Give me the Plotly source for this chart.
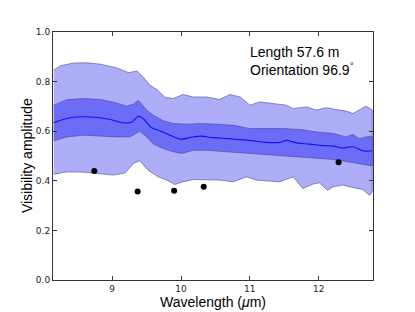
import plotly.graph_objects as go

# ---- data ----
med_x = [8.15, 8.34, 8.54, 8.78, 8.97, 9.16, 9.28, 9.38, 9.45, 9.57, 9.70, 9.84, 9.99, 10.13, 10.28,
         10.47, 10.67, 10.86, 11.05, 11.24, 11.44, 11.53, 11.68, 11.87, 12.06, 12.21, 12.35, 12.50, 12.64, 12.78]
med_y = [0.634, 0.651, 0.658, 0.655, 0.647, 0.634, 0.636, 0.660, 0.651, 0.615, 0.601, 0.584, 0.568, 0.574, 0.580,
         0.574, 0.570, 0.566, 0.561, 0.555, 0.555, 0.563, 0.553, 0.548, 0.542, 0.540, 0.532, 0.537, 0.521, 0.521]

in_up_x = [8.15, 8.34, 8.58, 8.83, 9.02, 9.21, 9.31, 9.38, 9.50, 9.60, 9.74, 9.89, 10.08, 10.28, 10.52,
           10.76, 11.00, 11.24, 11.48, 11.73, 11.97, 12.21, 12.40, 12.50, 12.59, 12.69, 12.78]
in_up_y = [0.705, 0.727, 0.732, 0.728, 0.717, 0.701, 0.709, 0.725, 0.685, 0.664, 0.642, 0.631, 0.628, 0.631, 0.628,
           0.624, 0.611, 0.611, 0.611, 0.607, 0.597, 0.591, 0.577, 0.587, 0.570, 0.577, 0.580]

in_lo_x = [8.15, 8.34, 8.58, 8.83, 9.07, 9.26, 9.40, 9.50, 9.60, 9.74, 9.89, 10.01, 10.18, 10.37, 10.66,
           10.95, 11.24, 11.48, 11.63, 11.82, 12.01, 12.21, 12.40, 12.59, 12.78]
in_lo_y = [0.561, 0.577, 0.584, 0.580, 0.577, 0.577, 0.600, 0.577, 0.548, 0.530, 0.517, 0.510, 0.523, 0.523, 0.519,
           0.513, 0.507, 0.503, 0.497, 0.494, 0.490, 0.486, 0.478, 0.470, 0.460]

out_up_x = [8.15, 8.25, 8.44, 8.63, 8.83, 9.07, 9.24, 9.36, 9.45, 9.55, 9.65, 9.77, 9.89, 10.03, 10.18, 10.37,
            10.56, 10.71, 10.86, 11.00, 11.145, 11.34, 11.53, 11.63, 11.82, 11.97, 12.11, 12.26, 12.40, 12.50,
            12.59, 12.69, 12.78]
out_up_y = [0.846, 0.864, 0.875, 0.876, 0.870, 0.855, 0.836, 0.843, 0.819, 0.785, 0.768, 0.736, 0.732, 0.748,
            0.738, 0.738, 0.728, 0.748, 0.738, 0.705, 0.718, 0.711, 0.705, 0.691, 0.698, 0.685, 0.695, 0.687,
            0.681, 0.671, 0.685, 0.701, 0.685]

out_lo_x = [8.15, 8.34, 8.58, 8.83, 9.02, 9.19, 9.31, 9.40, 9.52, 9.67, 9.79, 9.91, 10.03, 10.18, 10.37, 10.56,
            10.76, 10.95, 11.09, 11.29, 11.43, 11.63, 11.77, 11.92, 12.01, 12.13, 12.21, 12.35, 12.50, 12.64,
            12.74, 12.78]
out_lo_y = [0.426, 0.436, 0.435, 0.427, 0.423, 0.432, 0.470, 0.481, 0.443, 0.416, 0.403, 0.385, 0.396, 0.405,
            0.405, 0.403, 0.396, 0.416, 0.403, 0.399, 0.396, 0.416, 0.369, 0.387, 0.392, 0.362, 0.376, 0.383,
            0.373, 0.365, 0.342, 0.356]

obs_x = [8.74, 9.37, 9.90, 10.33, 12.29]
obs_y = [0.440, 0.357, 0.360, 0.376, 0.475]

x_ticks = [9, 10, 11, 12]
y_ticks = [0.0, 0.2, 0.4, 0.6, 0.8, 1.0]
label_lines = ["Length 57.6 m", "Orientation 96.9<sup>°</sup>"]
x_title = "Wavelength (<i>μ</i>m)"
y_title = "Visibility amplitude"

edge = "rgba(70,70,150,0.75)"
fig = go.Figure()
fig.add_trace(go.Scatter(x=out_up_x + out_lo_x[::-1], y=out_up_y + out_lo_y[::-1],
                         fill="toself", fillcolor="#adadf8", mode="lines",
                         line=dict(color=edge, width=0.8), hoverinfo="skip", showlegend=False))
fig.add_trace(go.Scatter(x=in_up_x + in_lo_x[::-1], y=in_up_y + in_lo_y[::-1],
                         fill="toself", fillcolor="#6c6cf6", mode="lines",
                         line=dict(color=edge, width=0.8), hoverinfo="skip", showlegend=False))
fig.add_trace(go.Scatter(x=med_x, y=med_y, mode="lines", line=dict(color="#1010ff", width=1.1),
                         line_shape="spline", showlegend=False))
fig.add_trace(go.Scatter(x=obs_x, y=obs_y, mode="markers",
                         marker=dict(color="black", size=6), showlegend=False))

axis_common = dict(showgrid=False, zeroline=False, showline=True, linecolor="#333333", linewidth=1,
                   mirror="allticks", ticks="inside", ticklen=4, tickcolor="#333333", automargin=False,
                   tickfont=dict(family="DejaVu Sans", size=9, color="#222222"))
fig.update_xaxes(range=[8.14, 12.79], tickvals=x_ticks, ticktext=[str(v) for v in x_ticks], **axis_common)
fig.update_yaxes(range=[0, 1], tickvals=y_ticks, ticktext=[f"{v:.1f}" for v in y_ticks], **axis_common)

title_font = dict(family="Liberation Sans", size=14, color="black")
fig.add_annotation(x=0.5, y=-0.05, xref="paper", yref="paper", xanchor="center", yanchor="top",
                   text=x_title, showarrow=False, font=title_font)
fig.add_annotation(x=-0.081, y=0.5, xref="paper", yref="paper", xanchor="center", yanchor="middle",
                   text=y_title, showarrow=False, textangle=-90, font=title_font)

fig.add_annotation(x=0.609, y=0.96, xref="paper", yref="paper", xanchor="left", yanchor="top",
                   text="<br>".join(label_lines), showarrow=False, align="left",
                   font=dict(family="Liberation Sans", size=14, color="black"))

fig.update_layout(width=415, height=312, margin=dict(l=53, r=42, t=32, b=32),
                  plot_bgcolor="white", paper_bgcolor="white")
fig.write_html("out.html", config={"displayModeBar": False},
               post_script="document.body.style.margin='0';document.body.style.overflow='hidden';")
